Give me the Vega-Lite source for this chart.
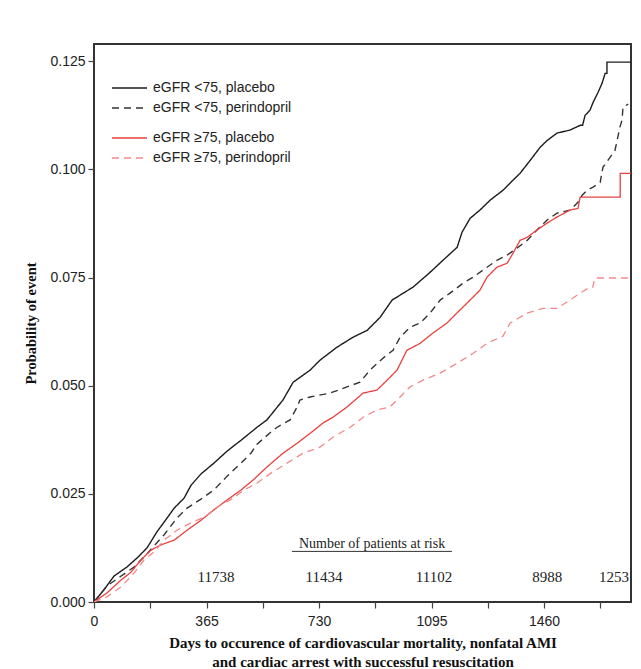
{
  "$schema": "https://vega.github.io/schema/vega-lite/v6.json",
  "width": 537,
  "height": 558,
  "autosize": {"type": "none"},
  "padding": {"left": 94, "top": 44, "right": 10, "bottom": 67},
  "background": "#ffffff",
  "config": {
    "view": {"stroke": "#333333", "strokeWidth": 2},
    "axis": {"grid": false, "domain": false, "tickColor": "#444444", "tickWidth": 1.2, "tickSize": 6,
             "labelFont": "Liberation Sans", "labelFontSize": 14, "labelColor": "#222222",
             "titleFont": "Liberation Serif", "titleFontWeight": "bold", "titleColor": "#111111"},
    "legend": {"labelFont": "Liberation Sans", "labelFontSize": 14, "labelColor": "#222222",
               "symbolType": "stroke", "symbolSize": 1225, "symbolStrokeWidth": 1.3, "clipHeight": 20,
               "rowPadding": 0, "labelOffset": 5, "padding": 0, "title": null, "orient": "none"}
  },
  "datasets": {
    "km": [
      {"group": "eGFR <75, placebo", "day": 0, "p": 0},
      {"group": "eGFR <75, placebo", "day": 32, "p": 0.0028},
      {"group": "eGFR <75, placebo", "day": 65, "p": 0.0060},
      {"group": "eGFR <75, placebo", "day": 107, "p": 0.0081},
      {"group": "eGFR <75, placebo", "day": 140, "p": 0.0102},
      {"group": "eGFR <75, placebo", "day": 172, "p": 0.0125},
      {"group": "eGFR <75, placebo", "day": 204, "p": 0.0162},
      {"group": "eGFR <75, placebo", "day": 237, "p": 0.0194},
      {"group": "eGFR <75, placebo", "day": 260, "p": 0.0217},
      {"group": "eGFR <75, placebo", "day": 292, "p": 0.0240},
      {"group": "eGFR <75, placebo", "day": 315, "p": 0.0270},
      {"group": "eGFR <75, placebo", "day": 347, "p": 0.0296},
      {"group": "eGFR <75, placebo", "day": 389, "p": 0.0321},
      {"group": "eGFR <75, placebo", "day": 432, "p": 0.0349},
      {"group": "eGFR <75, placebo", "day": 477, "p": 0.0374},
      {"group": "eGFR <75, placebo", "day": 529, "p": 0.0404},
      {"group": "eGFR <75, placebo", "day": 561, "p": 0.0421},
      {"group": "eGFR <75, placebo", "day": 613, "p": 0.0467},
      {"group": "eGFR <75, placebo", "day": 646, "p": 0.0508},
      {"group": "eGFR <75, placebo", "day": 701, "p": 0.0536},
      {"group": "eGFR <75, placebo", "day": 733, "p": 0.0559},
      {"group": "eGFR <75, placebo", "day": 788, "p": 0.0589},
      {"group": "eGFR <75, placebo", "day": 840, "p": 0.0612},
      {"group": "eGFR <75, placebo", "day": 886, "p": 0.0628},
      {"group": "eGFR <75, placebo", "day": 928, "p": 0.0658},
      {"group": "eGFR <75, placebo", "day": 967, "p": 0.0698},
      {"group": "eGFR <75, placebo", "day": 983, "p": 0.0705},
      {"group": "eGFR <75, placebo", "day": 1035, "p": 0.0728},
      {"group": "eGFR <75, placebo", "day": 1090, "p": 0.0762},
      {"group": "eGFR <75, placebo", "day": 1132, "p": 0.0790},
      {"group": "eGFR <75, placebo", "day": 1178, "p": 0.0820},
      {"group": "eGFR <75, placebo", "day": 1194, "p": 0.0855},
      {"group": "eGFR <75, placebo", "day": 1220, "p": 0.0887},
      {"group": "eGFR <75, placebo", "day": 1252, "p": 0.0906},
      {"group": "eGFR <75, placebo", "day": 1285, "p": 0.0929},
      {"group": "eGFR <75, placebo", "day": 1327, "p": 0.0952},
      {"group": "eGFR <75, placebo", "day": 1359, "p": 0.0975},
      {"group": "eGFR <75, placebo", "day": 1382, "p": 0.0991},
      {"group": "eGFR <75, placebo", "day": 1415, "p": 0.1021},
      {"group": "eGFR <75, placebo", "day": 1447, "p": 0.1051},
      {"group": "eGFR <75, placebo", "day": 1470, "p": 0.1067},
      {"group": "eGFR <75, placebo", "day": 1502, "p": 0.1084},
      {"group": "eGFR <75, placebo", "day": 1544, "p": 0.1091},
      {"group": "eGFR <75, placebo", "day": 1577, "p": 0.1102},
      {"group": "eGFR <75, placebo", "day": 1585, "p": 0.1102},
      {"group": "eGFR <75, placebo", "day": 1593, "p": 0.1125},
      {"group": "eGFR <75, placebo", "day": 1609, "p": 0.1137},
      {"group": "eGFR <75, placebo", "day": 1619, "p": 0.1155},
      {"group": "eGFR <75, placebo", "day": 1635, "p": 0.1178},
      {"group": "eGFR <75, placebo", "day": 1648, "p": 0.1199},
      {"group": "eGFR <75, placebo", "day": 1658, "p": 0.1222},
      {"group": "eGFR <75, placebo", "day": 1664, "p": 0.1222},
      {"group": "eGFR <75, placebo", "day": 1664, "p": 0.1248},
      {"group": "eGFR <75, placebo", "day": 1742, "p": 0.1248},

      {"group": "eGFR <75, perindopril", "day": 0, "p": 0},
      {"group": "eGFR <75, perindopril", "day": 42, "p": 0.0037},
      {"group": "eGFR <75, perindopril", "day": 88, "p": 0.0060},
      {"group": "eGFR <75, perindopril", "day": 130, "p": 0.0081},
      {"group": "eGFR <75, perindopril", "day": 162, "p": 0.0104},
      {"group": "eGFR <75, perindopril", "day": 227, "p": 0.0155},
      {"group": "eGFR <75, perindopril", "day": 269, "p": 0.0194},
      {"group": "eGFR <75, perindopril", "day": 302, "p": 0.0217},
      {"group": "eGFR <75, perindopril", "day": 347, "p": 0.0238},
      {"group": "eGFR <75, perindopril", "day": 389, "p": 0.0259},
      {"group": "eGFR <75, perindopril", "day": 432, "p": 0.0291},
      {"group": "eGFR <75, perindopril", "day": 477, "p": 0.0321},
      {"group": "eGFR <75, perindopril", "day": 509, "p": 0.0344},
      {"group": "eGFR <75, perindopril", "day": 529, "p": 0.0365},
      {"group": "eGFR <75, perindopril", "day": 574, "p": 0.0393},
      {"group": "eGFR <75, perindopril", "day": 594, "p": 0.0404},
      {"group": "eGFR <75, perindopril", "day": 636, "p": 0.0421},
      {"group": "eGFR <75, perindopril", "day": 659, "p": 0.0451},
      {"group": "eGFR <75, perindopril", "day": 668, "p": 0.0467},
      {"group": "eGFR <75, perindopril", "day": 701, "p": 0.0474},
      {"group": "eGFR <75, perindopril", "day": 766, "p": 0.0483},
      {"group": "eGFR <75, perindopril", "day": 808, "p": 0.0494},
      {"group": "eGFR <75, perindopril", "day": 863, "p": 0.0508},
      {"group": "eGFR <75, perindopril", "day": 895, "p": 0.0536},
      {"group": "eGFR <75, perindopril", "day": 938, "p": 0.0564},
      {"group": "eGFR <75, perindopril", "day": 970, "p": 0.0582},
      {"group": "eGFR <75, perindopril", "day": 993, "p": 0.0612},
      {"group": "eGFR <75, perindopril", "day": 1025, "p": 0.0635},
      {"group": "eGFR <75, perindopril", "day": 1058, "p": 0.0645},
      {"group": "eGFR <75, perindopril", "day": 1090, "p": 0.0668},
      {"group": "eGFR <75, perindopril", "day": 1123, "p": 0.0698},
      {"group": "eGFR <75, perindopril", "day": 1155, "p": 0.0714},
      {"group": "eGFR <75, perindopril", "day": 1197, "p": 0.0737},
      {"group": "eGFR <75, perindopril", "day": 1230, "p": 0.0751},
      {"group": "eGFR <75, perindopril", "day": 1275, "p": 0.0774},
      {"group": "eGFR <75, perindopril", "day": 1307, "p": 0.0790},
      {"group": "eGFR <75, perindopril", "day": 1340, "p": 0.0802},
      {"group": "eGFR <75, perindopril", "day": 1372, "p": 0.0818},
      {"group": "eGFR <75, perindopril", "day": 1405, "p": 0.0836},
      {"group": "eGFR <75, perindopril", "day": 1437, "p": 0.0860},
      {"group": "eGFR <75, perindopril", "day": 1470, "p": 0.0883},
      {"group": "eGFR <75, perindopril", "day": 1502, "p": 0.0899},
      {"group": "eGFR <75, perindopril", "day": 1544, "p": 0.0906},
      {"group": "eGFR <75, perindopril", "day": 1570, "p": 0.0924},
      {"group": "eGFR <75, perindopril", "day": 1583, "p": 0.0940},
      {"group": "eGFR <75, perindopril", "day": 1600, "p": 0.0952},
      {"group": "eGFR <75, perindopril", "day": 1619, "p": 0.0959},
      {"group": "eGFR <75, perindopril", "day": 1642, "p": 0.0970},
      {"group": "eGFR <75, perindopril", "day": 1651, "p": 0.1005},
      {"group": "eGFR <75, perindopril", "day": 1674, "p": 0.1028},
      {"group": "eGFR <75, perindopril", "day": 1690, "p": 0.1044},
      {"group": "eGFR <75, perindopril", "day": 1697, "p": 0.1067},
      {"group": "eGFR <75, perindopril", "day": 1706, "p": 0.1098},
      {"group": "eGFR <75, perindopril", "day": 1713, "p": 0.1114},
      {"group": "eGFR <75, perindopril", "day": 1716, "p": 0.1144},
      {"group": "eGFR <75, perindopril", "day": 1733, "p": 0.1151},

      {"group": "eGFR ≥75, placebo", "day": 0, "p": 0},
      {"group": "eGFR ≥75, placebo", "day": 42, "p": 0.0021},
      {"group": "eGFR ≥75, placebo", "day": 88, "p": 0.0051},
      {"group": "eGFR ≥75, placebo", "day": 120, "p": 0.0069},
      {"group": "eGFR ≥75, placebo", "day": 152, "p": 0.0097},
      {"group": "eGFR ≥75, placebo", "day": 185, "p": 0.0120},
      {"group": "eGFR ≥75, placebo", "day": 217, "p": 0.0132},
      {"group": "eGFR ≥75, placebo", "day": 260, "p": 0.0143},
      {"group": "eGFR ≥75, placebo", "day": 302, "p": 0.0166},
      {"group": "eGFR ≥75, placebo", "day": 347, "p": 0.0189},
      {"group": "eGFR ≥75, placebo", "day": 389, "p": 0.0213},
      {"group": "eGFR ≥75, placebo", "day": 432, "p": 0.0236},
      {"group": "eGFR ≥75, placebo", "day": 477, "p": 0.0259},
      {"group": "eGFR ≥75, placebo", "day": 516, "p": 0.0282},
      {"group": "eGFR ≥75, placebo", "day": 561, "p": 0.0312},
      {"group": "eGFR ≥75, placebo", "day": 613, "p": 0.0344},
      {"group": "eGFR ≥75, placebo", "day": 659, "p": 0.0367},
      {"group": "eGFR ≥75, placebo", "day": 701, "p": 0.0390},
      {"group": "eGFR ≥75, placebo", "day": 743, "p": 0.0414},
      {"group": "eGFR ≥75, placebo", "day": 775, "p": 0.0427},
      {"group": "eGFR ≥75, placebo", "day": 821, "p": 0.0451},
      {"group": "eGFR ≥75, placebo", "day": 873, "p": 0.0483},
      {"group": "eGFR ≥75, placebo", "day": 918, "p": 0.0490},
      {"group": "eGFR ≥75, placebo", "day": 951, "p": 0.0513},
      {"group": "eGFR ≥75, placebo", "day": 983, "p": 0.0536},
      {"group": "eGFR ≥75, placebo", "day": 1015, "p": 0.0582},
      {"group": "eGFR ≥75, placebo", "day": 1058, "p": 0.0598},
      {"group": "eGFR ≥75, placebo", "day": 1100, "p": 0.0622},
      {"group": "eGFR ≥75, placebo", "day": 1145, "p": 0.0645},
      {"group": "eGFR ≥75, placebo", "day": 1187, "p": 0.0675},
      {"group": "eGFR ≥75, placebo", "day": 1220, "p": 0.0698},
      {"group": "eGFR ≥75, placebo", "day": 1252, "p": 0.0721},
      {"group": "eGFR ≥75, placebo", "day": 1275, "p": 0.0751},
      {"group": "eGFR ≥75, placebo", "day": 1307, "p": 0.0774},
      {"group": "eGFR ≥75, placebo", "day": 1340, "p": 0.0783},
      {"group": "eGFR ≥75, placebo", "day": 1359, "p": 0.0806},
      {"group": "eGFR ≥75, placebo", "day": 1382, "p": 0.0836},
      {"group": "eGFR ≥75, placebo", "day": 1405, "p": 0.0843},
      {"group": "eGFR ≥75, placebo", "day": 1437, "p": 0.0860},
      {"group": "eGFR ≥75, placebo", "day": 1470, "p": 0.0876},
      {"group": "eGFR ≥75, placebo", "day": 1502, "p": 0.0890},
      {"group": "eGFR ≥75, placebo", "day": 1544, "p": 0.0906},
      {"group": "eGFR ≥75, placebo", "day": 1570, "p": 0.0910},
      {"group": "eGFR ≥75, placebo", "day": 1577, "p": 0.0936},
      {"group": "eGFR ≥75, placebo", "day": 1707, "p": 0.0936},
      {"group": "eGFR ≥75, placebo", "day": 1707, "p": 0.0991},
      {"group": "eGFR ≥75, placebo", "day": 1742, "p": 0.0991},

      {"group": "eGFR ≥75, perindopril", "day": 0, "p": 0},
      {"group": "eGFR ≥75, perindopril", "day": 42, "p": 0.0012},
      {"group": "eGFR ≥75, perindopril", "day": 88, "p": 0.0035},
      {"group": "eGFR ≥75, perindopril", "day": 130, "p": 0.0067},
      {"group": "eGFR ≥75, perindopril", "day": 162, "p": 0.0097},
      {"group": "eGFR ≥75, perindopril", "day": 195, "p": 0.0116},
      {"group": "eGFR ≥75, perindopril", "day": 227, "p": 0.0143},
      {"group": "eGFR ≥75, perindopril", "day": 269, "p": 0.0166},
      {"group": "eGFR ≥75, perindopril", "day": 315, "p": 0.0183},
      {"group": "eGFR ≥75, perindopril", "day": 357, "p": 0.0196},
      {"group": "eGFR ≥75, perindopril", "day": 399, "p": 0.0219},
      {"group": "eGFR ≥75, perindopril", "day": 442, "p": 0.0236},
      {"group": "eGFR ≥75, perindopril", "day": 487, "p": 0.0259},
      {"group": "eGFR ≥75, perindopril", "day": 529, "p": 0.0275},
      {"group": "eGFR ≥75, perindopril", "day": 574, "p": 0.0298},
      {"group": "eGFR ≥75, perindopril", "day": 626, "p": 0.0321},
      {"group": "eGFR ≥75, perindopril", "day": 678, "p": 0.0344},
      {"group": "eGFR ≥75, perindopril", "day": 733, "p": 0.0358},
      {"group": "eGFR ≥75, perindopril", "day": 775, "p": 0.0381},
      {"group": "eGFR ≥75, perindopril", "day": 831, "p": 0.0404},
      {"group": "eGFR ≥75, perindopril", "day": 873, "p": 0.0427},
      {"group": "eGFR ≥75, perindopril", "day": 918, "p": 0.0444},
      {"group": "eGFR ≥75, perindopril", "day": 960, "p": 0.0451},
      {"group": "eGFR ≥75, perindopril", "day": 993, "p": 0.0474},
      {"group": "eGFR ≥75, perindopril", "day": 1025, "p": 0.0497},
      {"group": "eGFR ≥75, perindopril", "day": 1067, "p": 0.0513},
      {"group": "eGFR ≥75, perindopril", "day": 1123, "p": 0.0529},
      {"group": "eGFR ≥75, perindopril", "day": 1178, "p": 0.0552},
      {"group": "eGFR ≥75, perindopril", "day": 1230, "p": 0.0575},
      {"group": "eGFR ≥75, perindopril", "day": 1275, "p": 0.0598},
      {"group": "eGFR ≥75, perindopril", "day": 1327, "p": 0.0615},
      {"group": "eGFR ≥75, perindopril", "day": 1350, "p": 0.0645},
      {"group": "eGFR ≥75, perindopril", "day": 1405, "p": 0.0668},
      {"group": "eGFR ≥75, perindopril", "day": 1457, "p": 0.0679},
      {"group": "eGFR ≥75, perindopril", "day": 1502, "p": 0.0679},
      {"group": "eGFR ≥75, perindopril", "day": 1544, "p": 0.0698},
      {"group": "eGFR ≥75, perindopril", "day": 1577, "p": 0.0714},
      {"group": "eGFR ≥75, perindopril", "day": 1609, "p": 0.0728},
      {"group": "eGFR ≥75, perindopril", "day": 1618, "p": 0.0728},
      {"group": "eGFR ≥75, perindopril", "day": 1625, "p": 0.0749},
      {"group": "eGFR ≥75, perindopril", "day": 1742, "p": 0.0749}
    ],
    "risk": [
      {"day": 396, "p": 0.0058, "label": "11738"},
      {"day": 746, "p": 0.0058, "label": "11434"},
      {"day": 1103, "p": 0.0058, "label": "11102"},
      {"day": 1470, "p": 0.0058, "label": "8988"},
      {"day": 1687, "p": 0.0058, "label": "1253"}
    ],
    "header": [
      {"day": 902, "p": 0.0134, "label": "Number of patients at risk", "day_start": 642, "day_end": 1161, "p_line": 0.0117}
    ]
  },
  "layer": [
    {
      "data": {"name": "km"},
      "transform": [{"filter": "indexof(datum.group, '<75') >= 0"}],
      "mark": {"type": "line", "interpolate": "linear", "strokeWidth": 1.4, "clip": true},
      "encoding": {
        "x": {"field": "day", "type": "quantitative", "scale": {"domain": [0, 1742], "nice": false, "zero": false},
              "axis": {"values": [0, 182.5, 365, 547.5, 730, 912.5, 1095, 1277.5, 1460, 1642.5],
                       "format": "d",
                       "labelExpr": "datum.value % 365 == 0 ? datum.label : ''",
                       "labelFlush": false, "labelOverlap": false, "labelPadding": 6,
                       "title": ["Days to occurence of cardiovascular mortality, nonfatal AMI", "and cardiac arrest with successful resuscitation"],
                       "titleFontSize": 15, "titleLineHeight": 19, "titlePadding": 7}},
        "y": {"field": "p", "type": "quantitative", "scale": {"domain": [0, 0.129], "nice": false},
              "axis": {"values": [0, 0.025, 0.05, 0.075, 0.1, 0.125], "format": ".3f", "labelPadding": 3,
                       "title": "Probability of event", "titleFontSize": 14.5, "titlePadding": 11}},
        "color": {"field": "group", "type": "nominal",
                  "scale": {"domain": ["eGFR <75, placebo", "eGFR <75, perindopril"], "range": ["#1c1c1c", "#333333"]},
                  "legend": {"legendX": 17, "legendY": 34}},
        "strokeDash": {"field": "group", "type": "nominal",
                       "scale": {"domain": ["eGFR <75, placebo", "eGFR <75, perindopril"], "range": [[1, 0], [7, 5]]},
                       "legend": {"legendX": 17, "legendY": 34}}
      }
    },
    {
      "data": {"name": "km"},
      "transform": [{"filter": "indexof(datum.group, '≥75') >= 0"}],
      "mark": {"type": "line", "interpolate": "linear", "strokeWidth": 1.3, "clip": true},
      "encoding": {
        "x": {"field": "day", "type": "quantitative"},
        "y": {"field": "p", "type": "quantitative"},
        "color": {"field": "group", "type": "nominal",
                  "scale": {"domain": ["eGFR ≥75, placebo", "eGFR ≥75, perindopril"], "range": ["#e8403f", "#f08a8a"]},
                  "legend": {"legendX": 17, "legendY": 84}},
        "strokeDash": {"field": "group", "type": "nominal",
                       "scale": {"domain": ["eGFR ≥75, placebo", "eGFR ≥75, perindopril"], "range": [[1, 0], [7, 5]]},
                       "legend": {"legendX": 17, "legendY": 84}}
      }
    },
    {
      "data": {"name": "risk"},
      "mark": {"type": "text", "font": "Liberation Serif", "fontSize": 15, "color": "#222222", "baseline": "middle", "align": "center"},
      "encoding": {
        "x": {"field": "day", "type": "quantitative"},
        "y": {"field": "p", "type": "quantitative"},
        "text": {"field": "label"}
      }
    },
    {
      "data": {"name": "header"},
      "mark": {"type": "text", "font": "Liberation Serif", "fontSize": 14, "color": "#222222", "baseline": "middle", "align": "center"},
      "encoding": {
        "x": {"field": "day", "type": "quantitative"},
        "y": {"field": "p", "type": "quantitative"},
        "text": {"field": "label"}
      }
    },
    {
      "data": {"name": "header"},
      "mark": {"type": "rule", "color": "#333333", "strokeWidth": 1},
      "encoding": {
        "x": {"field": "day_start", "type": "quantitative"},
        "x2": {"field": "day_end"},
        "y": {"field": "p_line", "type": "quantitative"}
      }
    }
  ],
  "resolve": {"scale": {"color": "independent", "strokeDash": "independent"}}
}
